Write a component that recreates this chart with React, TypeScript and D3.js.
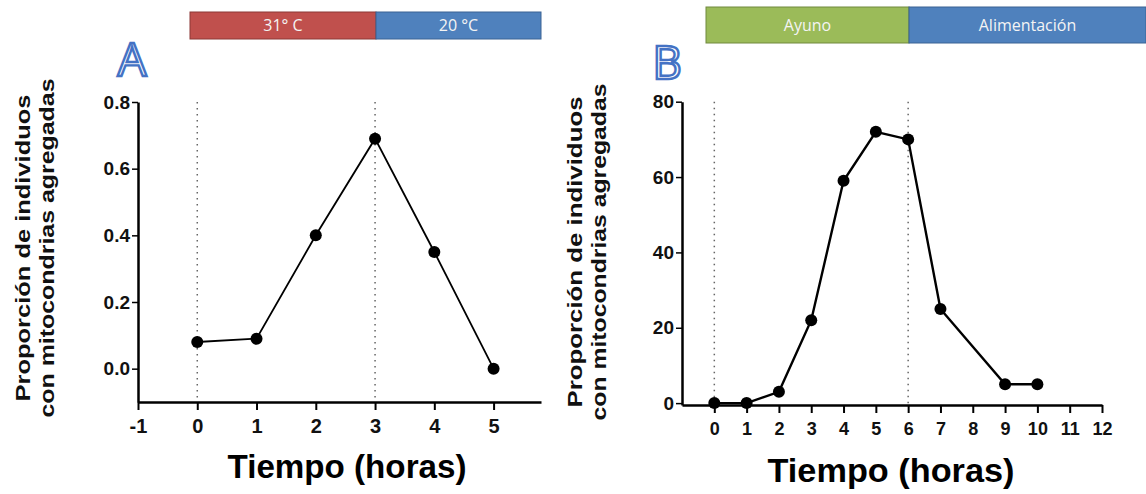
import React, { useEffect, useRef } from 'react'
import * as d3 from 'd3'

// panel A: temperature shift
const hoursA = [0, 1, 2, 3, 4, 5]
const valuesA = [0.08, 0.09, 0.4, 0.69, 0.35, 0.0]
const xTicksA = [-1, 0, 1, 2, 3, 4, 5]
const yTicksA = [0, 0.2, 0.4, 0.6, 0.8]
const markersA = [0, 3]
const bandsA = ['31° C', '20 °C']

// panel B: fasting / feeding
const hoursB = [0, 1, 2, 3, 4, 5, 6, 7, 9, 10]
const valuesB = [0, 0, 3, 22, 59, 72, 70, 25, 5, 5]
const xTicksB = [0, 1, 2, 3, 4, 5, 6, 7, 8, 9, 10, 11, 12]
const yTicksB = [0, 20, 40, 60, 80]
const markersB = [0, 6]
const bandsB = ['Ayuno', 'Alimentación']

const yTitle = ['Proporción de individuos', 'con mitocondrias agregadas']
const xTitle = 'Tiempo (horas)'

const ARIAL = '"Liberation Sans", Arial, sans-serif'
const CALIBRI = '"Open Sans", "Noto Sans", sans-serif'

const App = () => {
    const ref = useRef<SVGSVGElement>(null)

    useEffect(() => {
        const svg = d3.select(ref.current)
        svg.selectAll('*').remove()

        const drawPanel = (cfg: any) => {
            const g = svg.append('g')
            const x = d3.scaleLinear().domain(cfg.xDomain).range(cfg.xRange)
            const y = d3.scaleLinear().domain(cfg.yDomain).range(cfg.yRange)

            /* header bands */
            cfg.bands.forEach((b: any, i: number) => {
                g.append('rect')
                    .attr('x', b.x0).attr('y', cfg.bandY)
                    .attr('width', b.x1 - b.x0).attr('height', cfg.bandH)
                    .attr('fill', b.fill).attr('stroke', b.stroke).attr('stroke-width', 1)
                g.append('text')
                    .attr('x', (b.x0 + b.x1) / 2).attr('y', cfg.bandY + cfg.bandH / 2 + 5.5)
                    .attr('text-anchor', 'middle')
                    .attr('font-family', CALIBRI).attr('font-size', 16)
                    .attr('fill', '#f4f4f4')
                    .text(cfg.bandLabels[i])
            })

            /* panel letter (outlined) */
            g.append('text')
                .attr('x', cfg.letterX).attr('y', cfg.letterY)
                .attr('text-anchor', 'middle')
                .attr('font-family', CALIBRI).attr('font-size', 46)
                .attr('fill', '#fff').attr('stroke', '#4472c4').attr('stroke-width', 2.4)
                .text(cfg.letter)

            /* dotted markers */
            g.selectAll('line.mark')
                .data(cfg.markers)
                .enter()
                .append('line')
                .attr('x1', (d: number) => x(d)).attr('x2', (d: number) => x(d))
                .attr('y1', cfg.yRange[1]).attr('y2', cfg.yRange[0])
                .attr('stroke', '#666').attr('stroke-width', 1.5)
                .attr('stroke-dasharray', '1.5,4.5')

            /* axes */
            const xAxis = d3.axisBottom(x)
                .tickValues(cfg.xTicks)
                .tickSize(8).tickSizeOuter(0).tickPadding(9)
                .tickFormat((d: any) => String(d))
            const gx = g.append('g')
                .attr('transform', `translate(0,${cfg.yRange[0]})`)
                .call(xAxis)
            gx.select('.domain').attr('stroke-width', 2.5)
            gx.selectAll('.tick line').attr('stroke-width', 2)
            gx.selectAll('.tick text')
                .attr('font-family', ARIAL).attr('font-weight', 'bold')
                .attr('font-size', cfg.xFont).attr('fill', '#111')

            const yAxis = d3.axisLeft(y)
                .tickValues(cfg.yTicks)
                .tickSize(6).tickSizeOuter(0).tickPadding(2)
                .tickFormat(cfg.yFormat)
            const gy = g.append('g')
                .attr('transform', `translate(${cfg.xRange[0]},0)`)
                .call(yAxis)
            gy.select('.domain').attr('stroke-width', 2.5)
            gy.selectAll('.tick line').attr('stroke-width', 1.5)
            gy.selectAll('.tick text')
                .attr('font-family', ARIAL).attr('font-weight', 'bold')
                .attr('font-size', 19).attr('fill', '#111')

            /* series */
            const pts = cfg.hours.map((h: number, i: number) => [h, cfg.values[i]])
            const line = d3.line<number[]>().x((d) => x(d[0])).y((d) => y(d[1]))
            g.append('path')
                .attr('d', line(pts))
                .attr('fill', 'none').attr('stroke', '#000')
                .attr('stroke-width', cfg.lineW)
            g.selectAll('circle.pt')
                .data(pts)
                .enter()
                .append('circle')
                .attr('cx', (d: number[]) => x(d[0])).attr('cy', (d: number[]) => y(d[1]))
                .attr('r', 6).attr('fill', '#000')

            /* titles */
            cfg.yTitleX.forEach((tx: number, i: number) => {
                g.append('text')
                    .attr('transform', `translate(${tx},${cfg.yTitleY}) rotate(-90)`)
                    .attr('text-anchor', 'middle')
                    .attr('font-family', ARIAL).attr('font-weight', 'bold')
                    .attr('font-size', 21).attr('fill', '#111')
                    .attr('textLength', cfg.yTitleLen[i]).attr('lengthAdjust', 'spacingAndGlyphs')
                    .text(yTitle[i])
            })
            g.append('text')
                .attr('x', cfg.xTitleX).attr('y', cfg.xTitleY)
                .attr('text-anchor', 'middle')
                .attr('font-family', ARIAL).attr('font-weight', 'bold')
                .attr('font-size', 34).attr('fill', '#000')
                .attr('textLength', cfg.xTitleLen).attr('lengthAdjust', 'spacingAndGlyphs')
                .text(xTitle)
        }

        drawPanel({
            xDomain: [-1, 5.8], xRange: [138, 541],
            yDomain: [-0.1, 0.8], yRange: [402, 102],
            xTicks: xTicksA, yTicks: yTicksA, yFormat: d3.format('.1f'),
            hours: hoursA, values: valuesA, markers: markersA, lineW: 1.8,
            xFont: 20,
            bands: [
                { x0: 190, x1: 376, fill: '#c0504d', stroke: '#8c3836' },
                { x0: 376, x1: 541, fill: '#4f81bd', stroke: '#3a6394' },
            ],
            bandLabels: bandsA, bandY: 12, bandH: 27,
            letter: 'A', letterX: 132, letterY: 76,
            yTitleX: [30, 54], yTitleY: 248, yTitleLen: [307, 339],
            xTitleX: 347, xTitleY: 478, xTitleLen: 239,
        })

        drawPanel({
            xDomain: [-1, 12], xRange: [682, 1102],
            yDomain: [-0.5, 80], yRange: [405, 101.7],
            xTicks: xTicksB, yTicks: yTicksB, yFormat: d3.format('d'),
            hours: hoursB, values: valuesB, markers: markersB, lineW: 2.4,
            xFont: 18,
            bands: [
                { x0: 706, x1: 909, fill: '#9bbb59', stroke: '#71893f' },
                { x0: 909, x1: 1146, fill: '#4f81bd', stroke: '#3a6394' },
            ],
            bandLabels: bandsB, bandY: 7, bandH: 36,
            letter: 'B', letterX: 667, letterY: 79,
            yTitleX: [582, 606], yTitleY: 252, yTitleLen: [311, 337],
            xTitleX: 891, xTitleY: 482, xTitleLen: 247,
        })
    }, [])

    return (
        <svg ref={ref} width={1146} height={494}
            style={{ position: 'absolute', left: 0, top: 0, background: '#fff' }} />
    )
}

export default App
